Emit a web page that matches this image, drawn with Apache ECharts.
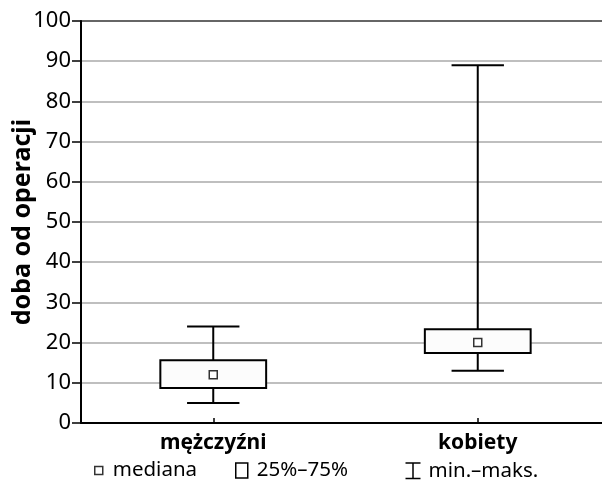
<!DOCTYPE html>
<html>
<head>
<meta charset="utf-8">
<script src="https://cdn.jsdelivr.net/npm/echarts@6/dist/echarts.min.js"></script>
<style>
  html, body { margin: 0; padding: 0; background: #fff; }
  #chart { width: 602px; height: 492px; }
</style>
</head>
<body>
<div id="chart"></div>
<script>
// Days after surgery, by sex: min / quartiles / median / max
const categories = ['mężczyźni', 'kobiety'];
const minValues = [5, 13];
const q1Values = [8.7, 17.4];
const medianValues = [12, 20];
const q3Values = [15.6, 23.3];
const maxValues = [24, 89];
const yTicks = [0, 10, 20, 30, 40, 50, 60, 70, 80, 90, 100];

const FONT = 'Noto Sans';
const INK = '#000';

const boxData = categories.map((c, i) => [i, q1Values[i], q3Values[i]]);
const whiskerData = categories.map((c, i) => [i, minValues[i], maxValues[i]]);
const medianData = categories.map((c, i) => [i, medianValues[i]]);

// Legend glyphs (extra moveTo points fix each glyph's bounding box)
const iconMedian = 'path://M0,0 M16,16 M3,4 L11,4 L11,12 L3,12 Z';
const iconBox = 'path://M0,0 M17,17 M1,1 L13,1 L13,16 L1,16 Z';
const iconRange = 'path://M0,0 M18,17 M0,0.5 L15,0.5 M7.5,0.5 L7.5,16 M0,16 L15,16';

const chart = echarts.init(document.getElementById('chart'), null, { renderer: 'canvas' });

const legendBase = {
  orient: 'horizontal',
  top: 460,
  padding: 0,
  itemHeight: 17,
  textStyle: { fontFamily: FONT, fontSize: 20.5, color: INK },
  selectedMode: false
};

chart.setOption({
  animation: false,
  backgroundColor: '#fff',
  grid: { left: 81, top: 21, width: 529, height: 402, containLabel: false, outerBoundsMode: 'none' },
  legend: [
    Object.assign({}, legendBase, {
      left: 91, itemWidth: 16, data: [{ name: 'mediana', icon: iconMedian }],
      itemStyle: { color: '#fff', borderColor: '#000', borderWidth: 1.5 }
    }),
    Object.assign({}, legendBase, {
      left: 234, itemWidth: 17, data: [{ name: '25%–75%', icon: iconBox }],
      itemStyle: { color: '#fff', borderColor: '#000', borderWidth: 1.5 }
    }),
    Object.assign({}, legendBase, {
      left: 403, itemWidth: 18, data: [{ name: 'min.–maks.', icon: iconRange }],
      itemStyle: { color: 'none', borderColor: '#000', borderWidth: 1.5 }
    })
  ],
  xAxis: {
    type: 'category',
    data: categories,
    boundaryGap: true,
    axisLine: { lineStyle: { color: '#000', width: 2 } },
    axisTick: { show: true, inside: true, alignWithLabel: true, length: 5, lineStyle: { color: '#000', width: 1.5 } },
    axisLabel: { fontFamily: FONT, fontSize: 21, fontWeight: 'bold', color: INK, margin: 10 },
    splitLine: { show: false }
  },
  yAxis: {
    type: 'value',
    min: 0,
    max: 100,
    interval: 10,
    name: 'doba od operacji',
    nameLocation: 'middle',
    nameGap: 46,
    nameMoveOverlap: false,
    nameTextStyle: { fontFamily: FONT, fontSize: 25, fontWeight: 'bold', color: INK },
    axisLine: { show: true, lineStyle: { color: '#000', width: 2 } },
    axisTick: { show: true, length: 9, lineStyle: { color: '#000', width: 1.5 } },
    axisLabel: {
      fontFamily: FONT, fontSize: 22, color: INK, margin: 10,
      formatter: v => (yTicks.indexOf(v) >= 0 ? String(v) : '')
    },
    splitLine: {
      show: true,
      lineStyle: {
        color: ['#aaa', '#aaa', '#aaa', '#aaa', '#aaa', '#aaa', '#aaa', '#aaa', '#aaa', '#aaa', '#333'],
        width: 1.5
      }
    }
  },
  series: [
    {
      name: 'min.–maks.',
      type: 'custom',
      data: whiskerData,
      z: 2,
      renderItem: function (params, api) {
        const idx = api.value(0);
        const lo = api.coord([idx, api.value(1)]);
        const hi = api.coord([idx, api.value(2)]);
        const band = api.size([1, 0])[0];
        const half = band * 0.099;
        const style = { stroke: '#000', lineWidth: 2, fill: null };
        return {
          type: 'group',
          children: [
            { type: 'line', shape: { x1: lo[0], y1: lo[1], x2: hi[0], y2: hi[1] }, style: style },
            { type: 'line', shape: { x1: lo[0] - half, y1: lo[1], x2: lo[0] + half, y2: lo[1] }, style: style },
            { type: 'line', shape: { x1: hi[0] - half, y1: hi[1], x2: hi[0] + half, y2: hi[1] }, style: style }
          ]
        };
      }
    },
    {
      name: '25%–75%',
      type: 'custom',
      data: boxData,
      z: 3,
      renderItem: function (params, api) {
        const idx = api.value(0);
        const lo = api.coord([idx, api.value(1)]);
        const hi = api.coord([idx, api.value(2)]);
        const band = api.size([1, 0])[0];
        const w = band * 0.4;
        return {
          type: 'rect',
          shape: { x: lo[0] - w / 2, y: hi[1], width: w, height: lo[1] - hi[1] },
          style: { fill: '#fcfcfc', stroke: '#000', lineWidth: 2 }
        };
      }
    },
    {
      name: 'mediana',
      type: 'scatter',
      data: medianData,
      z: 4,
      symbol: 'rect',
      symbolSize: 8,
      itemStyle: { color: '#fff', borderColor: '#000', borderWidth: 1.5 }
    }
  ]
});
</script>
</body>
</html>
